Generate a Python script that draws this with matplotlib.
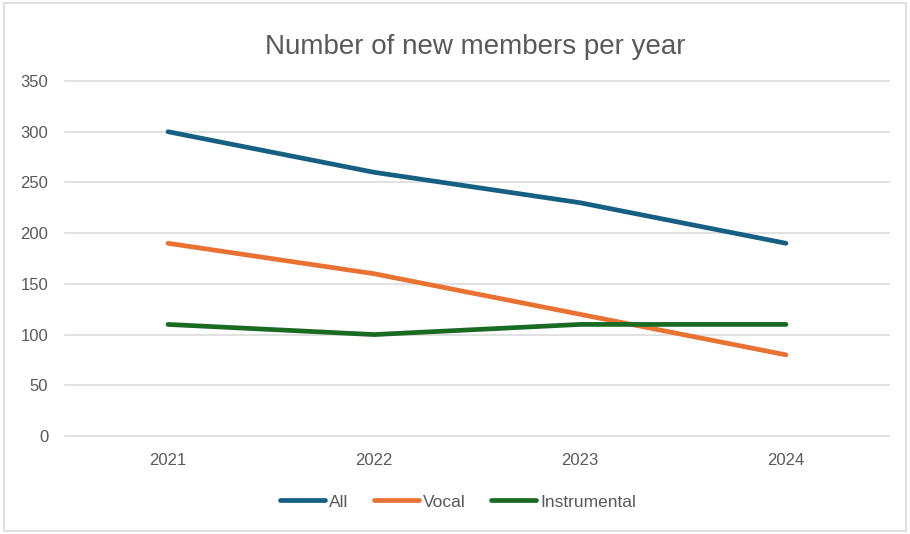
import matplotlib.pyplot as plt
from matplotlib.patches import Rectangle

years = ['2021', '2022', '2023', '2024']
all_members = [300, 260, 230, 190]
vocal = [190, 160, 120, 80]
instrumental = [110, 100, 110, 110]

W, H = 910, 534
plt.rcParams['font.family'] = ['Liberation Sans', 'DejaVu Sans']
fig = plt.figure(figsize=(W / 100, H / 100), dpi=100)

ax = fig.add_axes([65 / W, 1 - 436 / H, (889 - 65) / W, (436 - 81) / H])
x = list(range(len(years)))
ax.plot(x, all_members, color='#156082', lw=3.4, solid_capstyle='round', label='All', zorder=3)
ax.plot(x, vocal, color='#E97132', lw=3.4, solid_capstyle='round', label='Vocal', zorder=3)
ax.plot(x, instrumental, color='#196B24', lw=3.4, solid_capstyle='round', label='Instrumental', zorder=3)

ax.set_xlim(-0.5, 3.5)
ax.set_ylim(0, 350)
ax.set_yticks(range(0, 351, 50))
ax.set_xticks(x)
ax.set_xticklabels(years)
# gridlines drawn unclipped so the 0 and 350 lines show fully
for v in range(0, 351, 50):
    ax.axhline(v, color='#D9D9D9', lw=1.1, clip_on=False, zorder=1)
for s in ax.spines.values():
    s.set_visible(False)
ax.tick_params(length=0, colors='#595959', labelsize=12)
ax.tick_params(axis='y', pad=12)
ax.tick_params(axis='x', pad=12)

fig.text(475 / W, 1 - 47 / H, 'Number of new members per year', ha='center', va='center',
         fontsize=20, color='#595959')

fig.legend(loc='center', bbox_to_anchor=(458 / W, 1 - 502 / H), ncol=3, frameon=False,
           fontsize=12.5, handlelength=2.6, handletextpad=0.25, columnspacing=1.45,
           labelcolor='#595959')

fig.patches.append(Rectangle((4 / W, 3 / H), (906 - 4) / W, (531 - 3) / H, transform=fig.transFigure,
                             fill=False, edgecolor='#D9D9D9', lw=1.2))

fig.savefig('out.png', dpi=100, facecolor='white')
